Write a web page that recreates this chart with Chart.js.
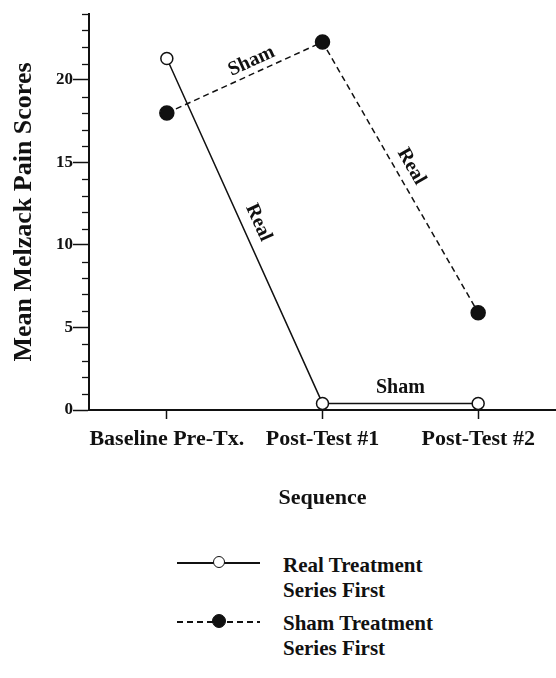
<!DOCTYPE html>
<html>
<head>
<meta charset="utf-8">
<script src="https://cdn.jsdelivr.net/npm/chart.js@4/dist/chart.umd.min.js"></script>
<style>
  body { margin: 0; background: #fff; width: 556px; height: 678px; overflow: hidden; position: relative; }
  #wrap { position: absolute; left: 0; top: 0; width: 556px; height: 520px; }
  .leg { position: absolute; left: 177px; font: bold 21px "Liberation Serif", "DejaVu Serif", serif; color: #111; }
  .leg .line { position: absolute; left: 0; width: 83px; top: -1px; height: 1.5px; background: #111; }
  .leg .line.dash { background: repeating-linear-gradient(to right, #111 0 6px, transparent 6px 10px); }
  .leg .dot { position: absolute; left: 36px; top: -7px; width: 10px; height: 10px; border-radius: 50%; border: 1.5px solid #111; background: #fff; }
  .leg .dot.fill { background: #111; width: 12px; height: 12px; left: 35px; top: -8px; }
  .leg .txt { position: absolute; left: 106px; top: -11px; width: 240px; line-height: 25px; white-space: nowrap; }
</style>
</head>
<body>
<div id="wrap"><canvas id="myChart"></canvas></div>
<div class="leg" style="top:563px">
  <div class="line"></div><div class="dot"></div>
  <div class="txt" style="top:-10px">Real Treatment<br>Series First</div>
</div>
<div class="leg" style="top:622px">
  <div class="line dash"></div><div class="dot fill"></div>
  <div class="txt">Sham Treatment<br>Series First</div>
</div>
<script>
var labels = ['Baseline Pre-Tx.', 'Post-Test #1', 'Post-Test #2'];
var realFirst = [21.3, 0.4, 0.4];
var shamFirst = [18.0, 22.3, 5.9];
var yMax = 24;

var serif = '"Liberation Serif", "DejaVu Serif", serif';

// text written along the line segments
var notes = [
  {text: 'Sham', ds: 1, seg: 0, off: -12, along: 13},
  {text: 'Real', ds: 0, seg: 0, off: -16, along: -2},
  {text: 'Real', ds: 1, seg: 1, off: -15, along: -4},
  {text: 'Sham', ds: 0, seg: 1, off: -16, along: 0}
];

var notePlugin = {
  id: 'notes',
  afterDatasetsDraw(chart) {
    var ctx = chart.ctx;
    ctx.save();
    ctx.fillStyle = '#111';
    ctx.font = 'bold 20px ' + serif;
    ctx.textAlign = 'center';
    ctx.textBaseline = 'middle';
    notes.forEach(n => {
      var pts = chart.getDatasetMeta(n.ds).data;
      var a = pts[n.seg], b = pts[n.seg + 1];
      var ang = Math.atan2(b.y - a.y, b.x - a.x);
      ctx.save();
      ctx.translate((a.x + b.x) / 2, (a.y + b.y) / 2);
      ctx.rotate(ang);
      ctx.fillText(n.text, n.along, n.off);
      ctx.restore();
    });
    ctx.restore();
  }
};

// short ticks at every unit between the labelled ones
var minorTicks = {
  id: 'minorTicks',
  afterDraw(chart) {
    var s = chart.scales.y, ctx = chart.ctx;
    var x = chart.chartArea.left;
    ctx.save();
    ctx.strokeStyle = '#111';
    ctx.lineWidth = 1.3;
    for (var v = 0; v <= yMax; v++) {
      if (v % 5 === 0) continue;
      var y = Math.round(s.getPixelForValue(v)) + 0.5;
      ctx.beginPath();
      ctx.moveTo(x - 7, y);
      ctx.lineTo(x + 1, y);
      ctx.stroke();
    }
    ctx.restore();
  }
};

new Chart(document.getElementById('myChart'), {
  type: 'line',
  data: {
    labels: labels,
    datasets: [{
      label: 'Real Treatment Series First',
      data: realFirst,
      borderColor: '#111',
      borderWidth: 1.5,
      pointRadius: 6,
      pointBackgroundColor: '#fff',
      pointBorderColor: '#111',
      pointBorderWidth: 1.5,
      tension: 0
    }, {
      label: 'Sham Treatment Series First',
      data: shamFirst,
      borderColor: '#111',
      borderWidth: 1.5,
      borderDash: [6, 4],
      pointRadius: 7,
      pointBackgroundColor: '#111',
      pointBorderColor: '#111',
      tension: 0
    }]
  },
  options: {
    responsive: true,
    maintainAspectRatio: false,
    animation: false,
    clip: false,
    layout: {autoPadding: false, padding: {top: 14, right: 0, left: 0, bottom: 0}},
    plugins: {legend: {display: false}, tooltip: {enabled: false}},
    scales: {
      x: {
        type: 'category',
        offset: true,
        afterFit: s => { s.height = 110; s.paddingLeft = 0; s.paddingRight = 0; },
        border: {color: '#111', width: 2},
        grid: {offset: false, drawOnChartArea: false, tickLength: 9, color: '#111', tickWidth: 1.5},
        ticks: {color: '#111', padding: 7, maxRotation: 0, autoSkip: false,
                font: {family: serif, weight: 'bold', size: 22}},
        title: {display: true, text: 'Sequence', color: '#111', padding: {top: 0, bottom: 8},
                font: {family: serif, weight: 'bold', size: 22}}
      },
      y: {
        min: 0,
        max: yMax,
        afterFit: s => { s.width = 89; s.paddingTop = 0; s.paddingBottom = 0; },
        border: {color: '#111', width: 2},
        grid: {drawOnChartArea: false, tickLength: 16, color: '#111', tickWidth: 1.5},
        ticks: {stepSize: 5, includeBounds: false, color: '#111', padding: 0,
                font: {family: serif, weight: 'bold', size: 17}},
        title: {display: true, text: 'Mean Melzack Pain Scores', color: '#111', padding: {top: 9, bottom: 0},
                font: {family: serif, weight: 'bold', size: 26}}
      }
    }
  },
  plugins: [notePlugin, minorTicks]
});
</script>
</body>
</html>
